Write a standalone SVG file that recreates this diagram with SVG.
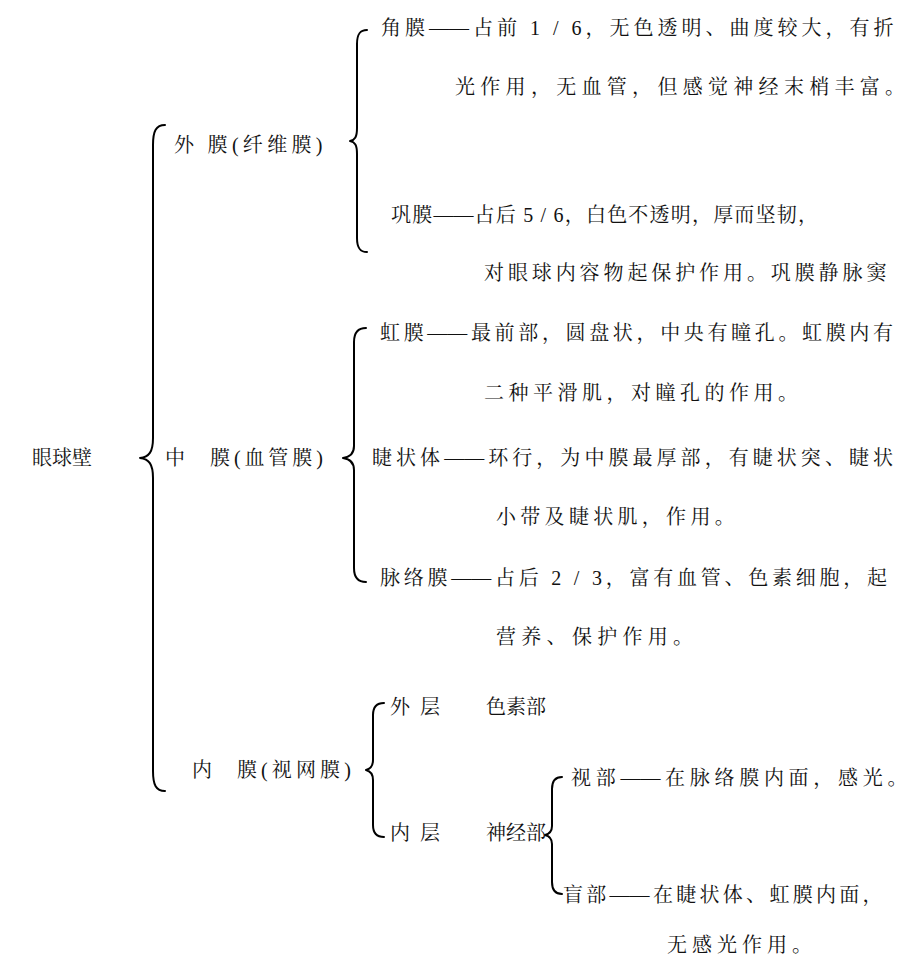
<svg xmlns="http://www.w3.org/2000/svg" width="907" height="967" viewBox="0 0 907 967">
<style>
text{font-family:"Liberation Serif","Noto Serif CJK SC","Noto Sans CJK SC",serif;font-size:20px;fill:#111;}
.d{letter-spacing:0;}
.br{fill:none;stroke:#000;stroke-width:2;stroke-linecap:round;stroke-linejoin:round;}
</style>
<rect width="907" height="967" fill="#fff"/>
<g id="connectors">
<path class="br" d="M165,125 C156,125 153,131 153,145 L153,438 C153,452 149,457 140,458 C149,459 153,464 153,478 L153,771 C153,785 156,791 165,791"/>
<path class="br" d="M367,30 C360,30 357,34 357,44 L357,128 C357,137 355,140 350,141 C355,142 357,145 357,154 L357,238 C357,248 360,252 367,252"/>
<path class="br" d="M366,328 C359,328 354,332 354,342 L354,446 C354,454 350,457 343,458 C350,459 354,462 354,470 L354,568 C354,578 359,582 366,582"/>
<path class="br" d="M384,703 C377,703 373,707 373,715 L373,760 C373,767 370,769 366,770 C370,771 373,773 373,780 L373,825 C373,833 377,837 384,837"/>
<path class="br" d="M562,777 C555,777 552,781 552,789 L552,826 C552,832 549,834 545,835 C549,836 552,838 552,844 L552,882 C552,890 555,894 562,894"/>
</g>
<g id="root"><text x="32" y="465">眼球壁</text></g>
<g id="outer"><text x="174" y="152" letter-spacing="4.3">外 膜(纤维膜<tspan class="d">)</tspan></text></g>
<g id="middle"><text x="165" y="465">中</text><text x="210" y="465" letter-spacing="3.9">膜(血管膜<tspan class="d">)</tspan></text></g>
<g id="inner"><text x="192" y="777">内</text><text x="237" y="777" letter-spacing="4.1">膜(视网膜<tspan class="d">)</tspan></text></g>
<g id="cornea"><text x="381" y="35" letter-spacing="4">角膜<tspan class="d">—</tspan>—占前 1 / 6，无色透明、曲度较大，有<tspan class="d">折</tspan></text><text x="455" y="94" letter-spacing="5.3">光作用，无血管，但感觉神经末梢丰富<tspan class="d">。</tspan></text></g>
<g id="sclera"><text x="391" y="222" letter-spacing="1.2">巩膜<tspan class="d">—</tspan>—占后 5 / 6，白色不透明，厚而坚韧<tspan class="d">，</tspan></text><text x="484" y="280" letter-spacing="3.9">对眼球内容物起保护作用。巩膜静脉<tspan class="d">窦</tspan></text></g>
<g id="iris"><text x="380" y="340" letter-spacing="3.65">虹膜<tspan class="d">—</tspan>—最前部，圆盘状，中央有瞳孔。虹膜内<tspan class="d">有</tspan></text><text x="484" y="400" letter-spacing="4.5">二种平滑肌，对瞳孔的作用<tspan class="d">。</tspan></text></g>
<g id="ciliary"><text x="372" y="465" letter-spacing="4.05">睫状体<tspan class="d">—</tspan>—环行，为中膜最厚部，有睫状突、睫<tspan class="d">状</tspan></text><text x="496" y="524" letter-spacing="4.3">小带及睫状肌，作用<tspan class="d">。</tspan></text></g>
<g id="choroid"><text x="380" y="585" letter-spacing="3.76">脉络膜<tspan class="d">—</tspan>—占后 2 / 3，富有血管、色素细胞，<tspan class="d">起</tspan></text><text x="496" y="644" letter-spacing="5.3">营养、保护作用<tspan class="d">。</tspan></text></g>
<g id="outer-layer"><text x="390" y="714">外</text><text x="420" y="714">层</text><text x="486" y="714">色素部</text></g>
<g id="inner-layer"><text x="390" y="840">内</text><text x="420" y="840">层</text><text x="486" y="840">神经部</text></g>
<g id="optic-part"><text x="571" y="785" letter-spacing="4.7">视部<tspan class="d">—</tspan>—在脉络膜内面，感光<tspan class="d">。</tspan></text></g>
<g id="blind-part"><text x="563" y="902" letter-spacing="3.3">盲部<tspan class="d">—</tspan>—在睫状体、虹膜内面<tspan class="d">，</tspan></text><text x="667" y="952" letter-spacing="5">无感光作用<tspan class="d">。</tspan></text></g>
</svg>
